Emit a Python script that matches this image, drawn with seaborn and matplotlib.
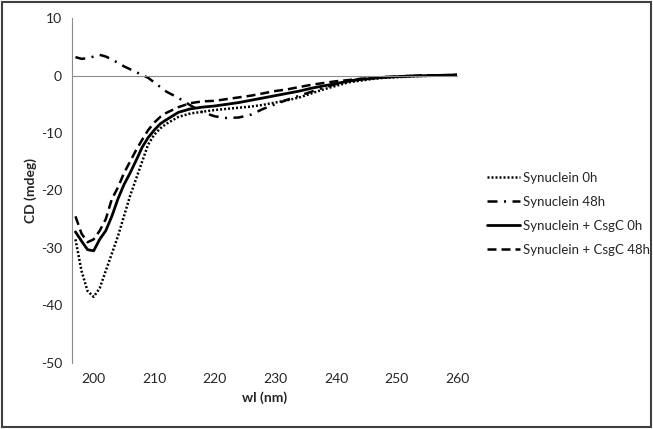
import matplotlib
matplotlib.use('Agg')
import matplotlib.pyplot as plt
import pandas as pd
import seaborn as sns

# wavelength grid (nm)
wl = [197, 198, 199, 200, 201, 202, 203, 204, 205, 206, 207, 208, 209, 210, 211, 212,
      214, 216, 218, 220, 222, 224, 226, 228, 230, 232, 234, 236, 238, 240,
      242, 244, 246, 248, 250, 252, 254, 256, 258, 260]

syn_0h = [-28.5, -34.0, -37.5, -38.5, -37.0, -34.0, -31.0, -28.0, -24.5, -21.0, -18.0, -15.0,
          -12.0, -10.3, -9.2, -8.4, -7.2, -6.6, -6.3, -6.0, -5.8, -5.6, -5.4, -5.1, -4.7,
          -4.3, -3.8, -3.1, -2.4, -1.8, -1.2, -0.9, -0.6, -0.4, -0.3, -0.2, -0.1, -0.05, 0.0, 0.0]

syn_48h = [3.2, 2.9, 3.0, 3.3, 3.6, 3.3, 2.8, 2.2, 1.6, 1.1, 0.6, 0.1, -0.4, -1.2, -2.0, -2.8,
           -3.9, -5.2, -6.4, -7.1, -7.4, -7.3, -6.8, -5.8, -5.0, -4.2, -3.5, -2.8, -2.1, -1.5,
           -1.0, -0.6, -0.4, -0.3, -0.2, -0.1, -0.05, 0.0, 0.05, 0.1]

csgc_0h = [-27.2, -28.8, -30.3, -30.5, -28.5, -27.0, -24.5, -21.5, -19.0, -17.0, -14.8, -12.5,
           -10.8, -9.5, -8.4, -7.7, -6.4, -5.8, -5.5, -5.3, -5.0, -4.7, -4.3, -3.9, -3.5,
           -3.1, -2.7, -2.2, -1.8, -1.4, -1.0, -0.7, -0.5, -0.3, -0.2, -0.1, -0.05, 0.0, 0.05, 0.1]

csgc_48h = [-24.5, -27.5, -29.0, -28.5, -27.0, -25.0, -21.5, -19.5, -17.0, -15.0, -13.0, -11.2,
            -9.5, -8.2, -7.2, -6.5, -5.5, -4.8, -4.5, -4.4, -4.1, -3.8, -3.5, -3.1, -2.7,
            -2.4, -2.0, -1.6, -1.3, -1.0, -0.8, -0.6, -0.4, -0.3, -0.2, -0.1, 0.0, 0.0, 0.05, 0.1]

labels = ["Synuclein 0h", "Synuclein 48h", "Synuclein + CsgC 0h", "Synuclein + CsgC 48h"]
series = [syn_0h, syn_48h, csgc_0h, csgc_48h]

sns.set_style("white")
plt.rcParams['font.family'] = ['Lato', 'DejaVu Sans']
plt.rcParams['axes.unicode_minus'] = False

fig = plt.figure(figsize=(6.53, 4.29), dpi=100)
ax = fig.add_axes([0.110, 0.154, 0.590, 0.804])

# dash patterns are in units of line width
line_styles = [
    dict(dashes=(0.8, 0.8), lw=1.8),
    dict(dashes=(4, 2.6, 0.8, 2.6), lw=1.8),
    dict(dashes=(), lw=2.0),
    dict(dashes=(3.6, 2.0), lw=1.8),
]

for lab, vals, st in zip(labels, series, line_styles):
    df = pd.DataFrame({"wl": wl, "cd": vals})
    sns.lineplot(data=df, x="wl", y="cd", ax=ax, color="black", lw=st["lw"], label=lab)
    ln = ax.lines[-1]
    if st["dashes"]:
        ln.set_dashes(st["dashes"])
    ln.set_dash_capstyle("butt")

ax.set_xlim(196.4, 260)
ax.set_ylim(-50, 10)
ax.set_yticks(range(-50, 11, 10))
ax.set_xticks(range(200, 261, 10))

# x axis crosses at zero, its labels stay at the bottom
for s in ["top", "right"]:
    ax.spines[s].set_visible(False)
ax.spines["bottom"].set_position(("data", 0))
ax.spines["bottom"].set_color("#8c8c8c")
ax.spines["left"].set_color("#8c8c8c")
ax.tick_params(axis="x", direction="out", length=4, color="#8c8c8c", labelbottom=False)
ax.tick_params(axis="y", direction="out", length=4, color="#8c8c8c", labelsize=10,
               labelcolor="#262626", pad=3)
ax.set_xlabel("")
ax.set_ylabel("CD (mdeg)", fontsize=10, fontweight="bold", labelpad=3)

sec = ax.secondary_xaxis(0)
sec.set_xticks(range(200, 261, 10))
sec.spines["bottom"].set_visible(False)
sec.tick_params(length=0, labelsize=10, labelcolor="#262626", pad=7)
sec.set_xlabel("wl (nm)", fontsize=10, fontweight="bold", labelpad=5)

leg = ax.legend(loc="upper left", bbox_to_anchor=(0.746, 0.600), bbox_transform=fig.transFigure,
                frameon=False, fontsize=9.5, handlelength=2.5, handletextpad=0.25,
                labelspacing=0.92, borderpad=0, borderaxespad=0)

# outer border
fig.patches.append(plt.Rectangle((0.003, 0.005), 0.994, 0.99, transform=fig.transFigure,
                                 fill=False, edgecolor="#404040", lw=1.5))

plt.savefig("out.png", dpi=100)
plt.close()
